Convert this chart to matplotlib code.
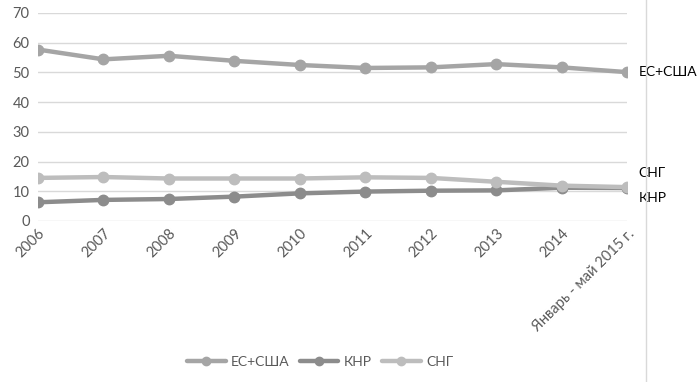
import matplotlib
matplotlib.use("Agg")
import matplotlib.pyplot as plt
from matplotlib.lines import Line2D

plt.rcParams['font.family'] = ['Lato', 'DejaVu Sans']

categories = ["2006", "2007", "2008", "2009", "2010", "2011", "2012", "2013", "2014",
              "Январь - май 2015 г."]
eu_us = [57.7, 54.4, 55.6, 53.9, 52.5, 51.5, 51.7, 52.8, 51.7, 50.1]
china = [6.3, 7.1, 7.4, 8.2, 9.3, 9.9, 10.2, 10.3, 11.2, 11.1]
cis = [14.5, 14.8, 14.3, 14.3, 14.3, 14.7, 14.5, 13.2, 11.9, 11.4]
series_names = ["ЕС+США", "КНР", "СНГ"]
colors = ["#a5a5a5", "#8c8c8c", "#bdbdbd"]

fig = plt.figure(figsize=(6.98, 3.82), dpi=100)
ax = fig.add_axes([38/698, 1-221/382, (627-38)/698, (221-13)/382])

x = list(range(len(categories)))
for vals, name, c in zip([eu_us, china, cis], series_names, colors):
    ax.plot(x, vals, color=c, lw=3.2, marker='o', ms=7.5, label=name,
            solid_capstyle='round', zorder=3)

ax.set_xlim(0, len(categories) - 1)
ax.set_ylim(0, 70)
ax.set_yticks(range(0, 71, 10))
ax.grid(axis='y', color='#d9d9d9', lw=1)
ax.set_axisbelow(True)
for s in ax.spines.values():
    s.set_visible(False)
ax.tick_params(axis='both', length=0, labelsize=10.5, labelcolor='#595959')
ax.tick_params(axis='y', pad=6)
ax.set_xticks(x)
ax.set_xticklabels(categories, rotation=45, ha='right', va='top',
                   rotation_mode='anchor')
ax.tick_params(axis='x', pad=4)

# right-side series labels
ax.text(1.02, eu_us[-1], "ЕС+США", transform=ax.get_yaxis_transform(),
        va='center', ha='left', fontsize=10, color='black')
ax.text(1.02, cis[-1] + 4.8, "СНГ", transform=ax.get_yaxis_transform(),
        va='center', ha='left', fontsize=10, color='black')
ax.text(1.02, china[-1] - 3.3, "КНР", transform=ax.get_yaxis_transform(),
        va='center', ha='left', fontsize=10, color='black')

leg = fig.legend(loc='center', bbox_to_anchor=(320/698, 1-362/382), ncol=3,
                 frameon=False, fontsize=10, handlelength=2.8, columnspacing=0.7,
                 handletextpad=0.4, markerscale=0.8)
for t in leg.get_texts():
    t.set_color('#595959')

fig.add_artist(Line2D([646/698, 646/698], [0, 1], color='#d9d9d9', lw=1,
                      transform=fig.transFigure))

fig.savefig("out.png", dpi=100)
